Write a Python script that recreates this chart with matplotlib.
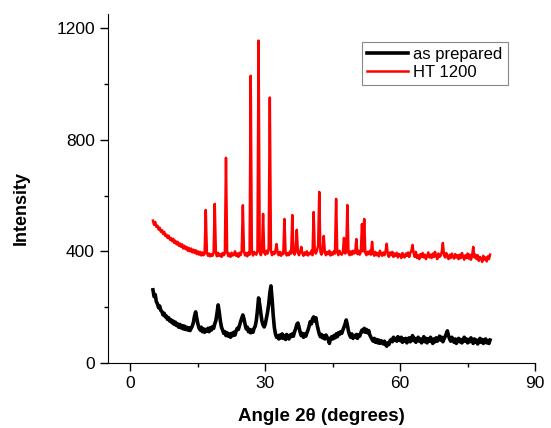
import numpy as np
import matplotlib
matplotlib.use("Agg")
import matplotlib.pyplot as plt
from matplotlib.ticker import MultipleLocator

# scan settings (2theta, degrees) - 0.25 deg steps
angle_start = 5.0
angle_stop = 80.0
angle_step = 0.25

# HT 1200 (red)
ht1200 = [
    510, 495, 505, 488, 492, 478, 485, 470, 476, 462, 470, 455,
    460, 448, 456, 442, 448, 436, 445, 430, 438, 425, 434, 420,
    428, 416, 425, 410, 420, 408, 416, 402, 412, 400, 410, 396,
    406, 394, 404, 390, 400, 388, 398, 385, 396, 386, 392, 548,
    395, 384, 392, 382, 390, 384, 398, 570, 392, 382, 395, 384,
    390, 380, 394, 386, 392, 735, 400, 383, 392, 380, 395, 385,
    388, 400, 384, 392, 380, 395, 386, 402, 565, 398, 385, 394,
    382, 396, 388, 1029, 400, 385, 398, 392, 388, 402, 1155, 398,
    386, 400, 534, 395, 388, 402, 392, 410, 951, 400, 386, 398,
    390, 402, 426, 392, 386, 398, 384, 395, 390, 516, 398, 385,
    394, 386, 400, 392, 530, 398, 388, 402, 477, 395, 386, 398,
    416, 392, 384, 396, 388, 400, 385, 394, 390, 402, 386, 541,
    398, 392, 404, 420, 613, 398, 388, 402, 455, 394, 386, 398,
    390, 402, 385, 396, 388, 400, 392, 588, 398, 386, 402, 392,
    388, 396, 448, 392, 398, 566, 394, 386, 400, 388, 402, 392,
    396, 444, 390, 402, 388, 398, 498, 400, 516, 394, 386, 398,
    390, 402, 388, 434, 392, 384, 398, 386, 394, 382, 402, 390,
    384, 396, 386, 400, 427, 388, 380, 396, 386, 398, 380, 392,
    384, 395, 378, 390, 388, 376, 394, 382, 378, 392, 384, 396,
    380, 394, 402, 423, 392, 380, 398, 376, 386, 372, 390, 380,
    394, 378, 388, 372, 384, 396, 378, 388, 376, 392, 380, 398,
    384, 372, 392, 380, 384, 398, 430, 386, 378, 394, 382, 372,
    388, 376, 392, 380, 374, 390, 378, 386, 372, 388, 376, 394,
    380, 370, 386, 376, 392, 374, 388, 370, 384, 416, 378, 388,
    372, 386, 366, 380, 374, 362, 384, 370, 378, 364, 382, 372,
    388,
]

# as prepared (black)
as_prepared = [
    262, 238, 245, 220, 212, 198, 204, 188, 184, 172, 178, 165,
    168, 156, 162, 150, 155, 144, 150, 138, 146, 134, 140, 128,
    138, 126, 134, 122, 132, 120, 128, 118, 126, 116, 124, 132,
    145, 168, 183, 160, 140, 125, 118, 128, 112, 122, 110, 120,
    114, 124, 112, 126, 118, 130, 124, 140, 152, 178, 208, 182,
    150, 128, 118, 106, 112, 98, 108, 96, 104, 92, 106, 98,
    110, 100, 114, 124, 120, 134, 148, 160, 172, 158, 138, 122,
    128, 112, 120, 108, 118, 110, 124, 132, 152, 188, 233, 210,
    178, 150, 136, 129, 140, 160, 182, 210, 250, 276, 230, 172,
    128, 104, 92, 98, 86, 100, 90, 104, 88, 98, 84, 102,
    92, 86, 100, 94, 104, 96, 112, 122, 138, 143, 128, 110,
    98, 106, 92, 104, 96, 108, 118, 132, 148, 140, 158, 165,
    150, 162, 138, 120, 104, 94, 102, 90, 96, 86, 100, 92,
    84, 70, 88, 94, 86, 98, 90, 104, 94, 108, 102, 112,
    106, 118, 128, 140, 154, 136, 114, 100, 92, 104, 88, 98,
    92, 102, 88, 100, 96, 108, 118, 112, 124, 110, 120, 108,
    116, 100, 92, 84, 78, 88, 74, 84, 72, 82, 70, 80,
    74, 68, 78, 66, 60, 72, 66, 80, 84, 76, 92, 82,
    88, 78, 94, 84, 80, 92, 74, 86, 78, 88, 72, 84,
    90, 76, 86, 98, 80, 88, 74, 84, 92, 78, 86, 72,
    82, 94, 76, 88, 72, 86, 78, 92, 80, 70, 86, 76,
    90, 78, 84, 96, 82, 92, 76, 86, 94, 104, 115, 98,
    86, 78, 92, 82, 74, 86, 70, 82, 88, 76, 84, 72,
    80, 92, 78, 86, 72, 84, 76, 90, 80, 70, 86, 74,
    82, 68, 78, 88, 74, 84, 70, 80, 86, 72, 80, 70,
    82,
]

angle = np.arange(len(ht1200)) * angle_step + angle_start

plt.rcParams['font.family'] = ['Liberation Sans', 'DejaVu Sans']

fig = plt.figure(figsize=(5.51, 4.28), dpi=100)
ax = fig.add_axes([0.196, 0.152, 0.775, 0.815])

ax.plot(angle, as_prepared, color='black', lw=2.6, label='as prepared')
ax.plot(angle, ht1200, color='red', lw=1.8, label='HT 1200')

ax.set_xlim(-5, 90)
ax.set_ylim(0, 1250)
ax.xaxis.set_major_locator(MultipleLocator(30))
ax.xaxis.set_minor_locator(MultipleLocator(15))
ax.yaxis.set_major_locator(MultipleLocator(400))
ax.yaxis.set_minor_locator(MultipleLocator(200))
ax.tick_params(which='major', direction='out', length=6, width=1, labelsize=12.5)
ax.tick_params(which='minor', direction='out', length=3, width=1)

for s in ['top', 'right']:
    ax.spines[s].set_visible(False)

ax.set_xlabel('Angle 2θ (degrees)', fontsize=13.5, fontweight='bold', labelpad=12)
ax.set_ylabel('Intensity', fontsize=13, fontweight='bold')
ax.yaxis.set_label_coords(-0.183, 0.444)

leg = ax.legend(loc='upper right', bbox_to_anchor=(0.936, 0.92), fontsize=12,
                handlelength=2.5, handletextpad=0.3, borderpad=0.3,
                labelspacing=0.15, fancybox=False, framealpha=1,
                borderaxespad=0)
leg.get_frame().set_edgecolor('#888888')
leg.get_frame().set_linewidth(0.8)

fig.savefig('out.png', dpi=100)
